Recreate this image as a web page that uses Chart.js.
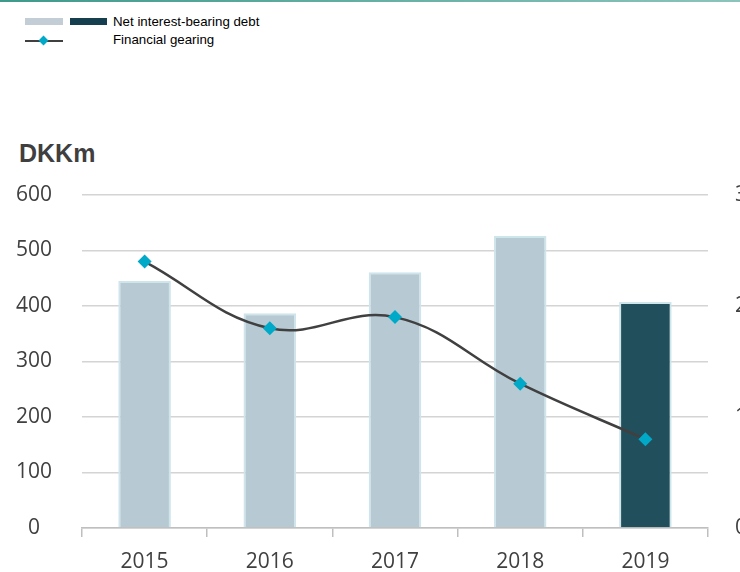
<!DOCTYPE html>
<html lang="en">
<head>
  <meta charset="UTF-8" />
  <title>Net interest-bearing debt</title>
  <style>
    * { margin: 0; padding: 0; }
    body { width: 740px; height: 572px; overflow: hidden; position: relative; background: #fff; font-family: "Liberation Sans", Arial, sans-serif; }
    .topLine { position: absolute; left: 0; top: 0; width: 740px; height: 2px; background: linear-gradient(90deg, #3f9a8c, #8cc4bb); }
    .legend { position: absolute; left: 0; top: 0; font-size: 13.3px; color: #000; }
    .swatch { position: absolute; height: 7px; top: 18px; }
    .lgText { position: absolute; left: 113px; white-space: nowrap; }
    .lgLine { position: absolute; left: 25px; top: 40px; width: 38px; height: 1.5px; background: #404040; }
    .lgDiamond { position: absolute; left: 40px; top: 37px; width: 7px; height: 7px; background: #00a9c8; transform: rotate(45deg); }
    .unit { position: absolute; left: 19px; top: 141px; font-size: 25px; line-height: 1; font-weight: bold; color: #3f3f3f; }
    .chartBox { position: absolute; left: 0; top: 1px; width: 770px; height: 572px; }
  </style>
</head>
<body>
  <div class="topLine"></div>
  <div class="legend">
    <div class="swatch" style="left:25px;width:38px;background:#c3cdd6"></div>
    <div class="swatch" style="left:70px;width:37px;background:#153f4e"></div>
    <div class="lgText" style="top:14px">Net interest-bearing debt</div>
    <div class="lgLine"></div>
    <div class="lgDiamond"></div>
    <div class="lgText" style="top:32px">Financial gearing</div>
  </div>
  <div class="unit">DKKm</div>
  <div class="chartBox">
    <canvas id="myChart" width="770" height="572"></canvas>
  </div>
  <script src="https://cdn.jsdelivr.net/npm/chart.js@4"></script>
  <script>
    const years = ["2015", "2016", "2017", "2018", "2019"];
    const debt = [445, 387, 461, 526, 407];
    const gearing = [2.4, 1.8, 1.9, 1.3, 0.8];
    const debtTicks = [0, 100, 200, 300, 400, 500, 600];
    const gearingTicks = [0, 1, 2, 3];

    const barColors = ["#b7cad3", "#b7cad3", "#b7cad3", "#b7cad3", "#224f5c"];

    const tickFont = { family: "'Open Sans', sans-serif", size: 21 };

    const data = {
      labels: years,
      datasets: [
        {
          type: "line",
          label: "Financial gearing",
          data: gearing,
          yAxisID: "y2",
          borderColor: "#404040",
          borderWidth: 2.5,
          tension: 0.4,
          pointStyle: "rectRot",
          pointRadius: 7,
          pointBackgroundColor: "#00a9c8",
          pointBorderColor: "#00a9c8",
          pointBorderWidth: 0,
          order: 0,
        },
        {
          type: "bar",
          label: "Net interest-bearing debt",
          data: debt,
          yAxisID: "y",
          backgroundColor: barColors,
          borderColor: "#cfe5ec",
          borderWidth: 2,
          borderSkipped: "bottom",
          barPercentage: 0.42,
          categoryPercentage: 1,
          order: 1,
        },
      ],
    };

    const options = {
      responsive: false,
      animation: false,
      layout: { padding: { top: 194, left: 0, right: 0, bottom: 0 } },
      plugins: { legend: { display: false }, tooltip: { enabled: false } },
      scales: {
        x: {
          offset: true,
          grid: { offset: true, drawOnChartArea: false, drawTicks: true, tickLength: 9, color: "#bfbfbf", lineWidth: 1.5 },
          border: { display: true, color: "#bfbfbf", width: 1.5 },
          ticks: { color: "#404040", font: tickFont, padding: 12 },
          afterFit: (s) => { s.height = 45; },
        },
        y: {
          position: "left",
          min: 0,
          max: 600,
          afterBuildTicks: (s) => { s.ticks = debtTicks.map((v) => ({ value: v })); },
          grid: { color: "#d4d4d4", lineWidth: 1.5, drawTicks: false },
          border: { display: false },
          ticks: { color: "#404040", font: tickFont, padding: 30, crossAlign: "center" },
          afterFit: (s) => { s.width = 82; },
        },
        y2: {
          position: "right",
          min: 0,
          max: 3,
          afterBuildTicks: (s) => { s.ticks = gearingTicks.map((v) => ({ value: v })); },
          grid: { drawOnChartArea: false, drawTicks: false },
          border: { display: false },
          ticks: { color: "#404040", font: tickFont, padding: 27 },
          afterFit: (s) => { s.width = 62; },
        },
      },
    };

    const ctx = document.getElementById("myChart").getContext("2d");
    const myChart = new Chart(ctx, { data: data, options: options });
  </script>
</body>
</html>
